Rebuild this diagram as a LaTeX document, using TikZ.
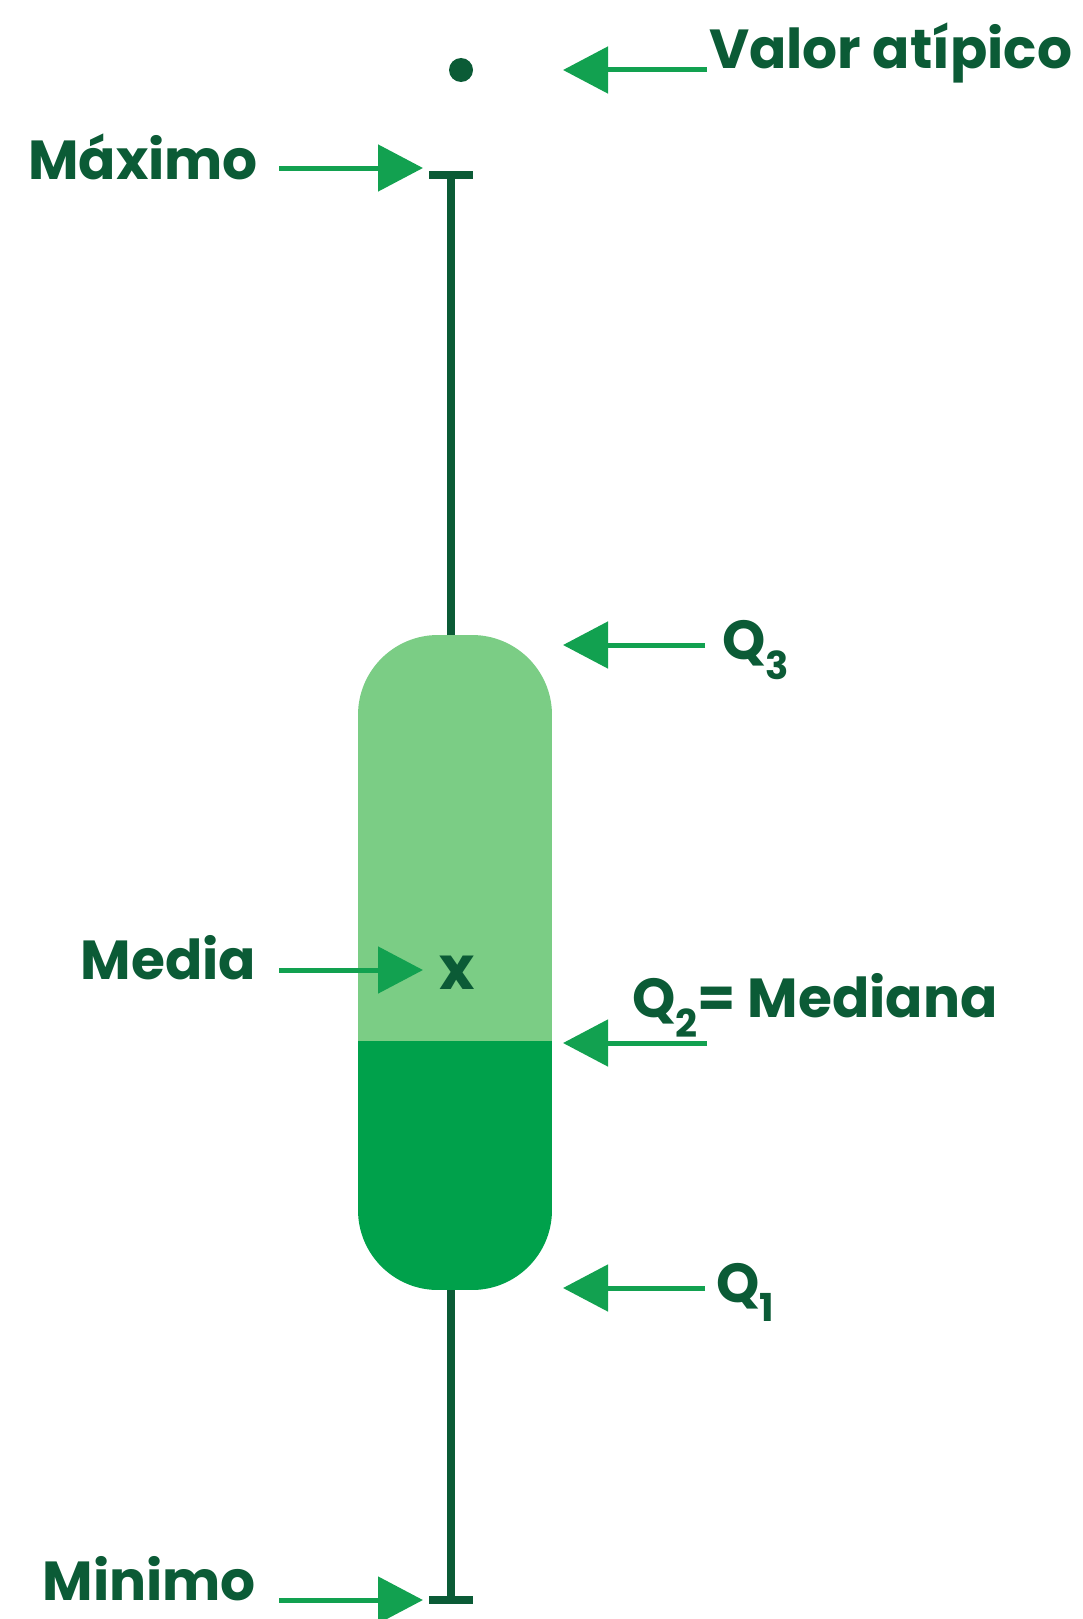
\documentclass[tikz,border=0pt]{standalone}
\usepackage{fontspec}
\setmainfont{Poppins}
\usetikzlibrary{arrows.meta}
\definecolor{inkgreen}{HTML}{0B5B36}
\definecolor{pointgreen}{HTML}{12A150}
\definecolor{boxlight}{HTML}{7BCD85}
\definecolor{boxdark}{HTML}{00A14B}
\begin{document}
\begin{tikzpicture}[x=1pt,y=-1pt,inner sep=0pt,outer sep=0pt,
tag/.style={text=inkgreen,font=\fontsize{55}{60}\selectfont\bfseries},
pointer/.style={pointgreen,line width=5pt,-{Triangle[length=45pt,width=46pt]}},
whisker/.style={inkgreen,line width=8pt}]
\useasboundingbox (0,0) rectangle (1082,1619);
% box with median split
\begin{scope}
\clip[rounded corners=80pt] (358,635) rectangle (552,1290);
\fill[boxlight] (358,635) rectangle (552,1041);
\fill[boxdark] (358,1041) rectangle (552,1290);
\end{scope}
\coordinate (boxtop) at (451,635);
\coordinate (boxbot) at (451,1290);
\coordinate (maxcap) at (451,175);
\coordinate (mincap) at (451,1600);
\draw[whisker] (boxtop) -- (maxcap);
\draw[whisker] ([xshift=-22pt]maxcap) -- ([xshift=22pt]maxcap);
\draw[whisker] (boxbot) -- (mincap);
\draw[whisker] ([xshift=-22pt]mincap) -- ([xshift=22pt]mincap);
\node[circle,fill=inkgreen,minimum size=24pt] (outlier) at (461,70) {};
\node[tag,font=\fontsize{60}{60}\selectfont\bfseries] (mean) at (457,973) {x};
% labels
\node[tag,anchor=base west] (atip) at (709,69) {Valor atípico};
\node[tag,anchor=base east] (maxl) at (258,179) {Máximo};
\node[tag,anchor=base west] (q3) at (722,659) {Q\textsubscript{3}};
\node[tag,anchor=base east] (medl) at (256,979) {Media};
\node[tag,anchor=base west] (q2) at (632,1017) {Q\textsubscript{2}= Mediana};
\node[tag,anchor=base west] (q1) at (716,1302) {Q\textsubscript{1}};
\node[tag,anchor=base east] (minl) at (256,1600) {Minimo};
% pointers
\coordinate (atipT) at (707,70);   \coordinate (atipH) at (563,70);
\coordinate (maxT) at (279,168);   \coordinate (maxH) at (423,168);
\coordinate (q3T) at (705,645);    \coordinate (q3H) at (563,645);
\coordinate (medT) at (279,970);   \coordinate (medH) at (423,970);
\coordinate (q2T) at (707,1043);   \coordinate (q2H) at (563,1043);
\coordinate (q1T) at (705,1288);   \coordinate (q1H) at (563,1288);
\coordinate (minT) at (279,1600);  \coordinate (minH) at (423,1600);
\foreach \a in {atip,max,q3,med,q2,q1,min}
  \draw[pointer] (\a T) -- (\a H);
\end{tikzpicture}
\end{document}
